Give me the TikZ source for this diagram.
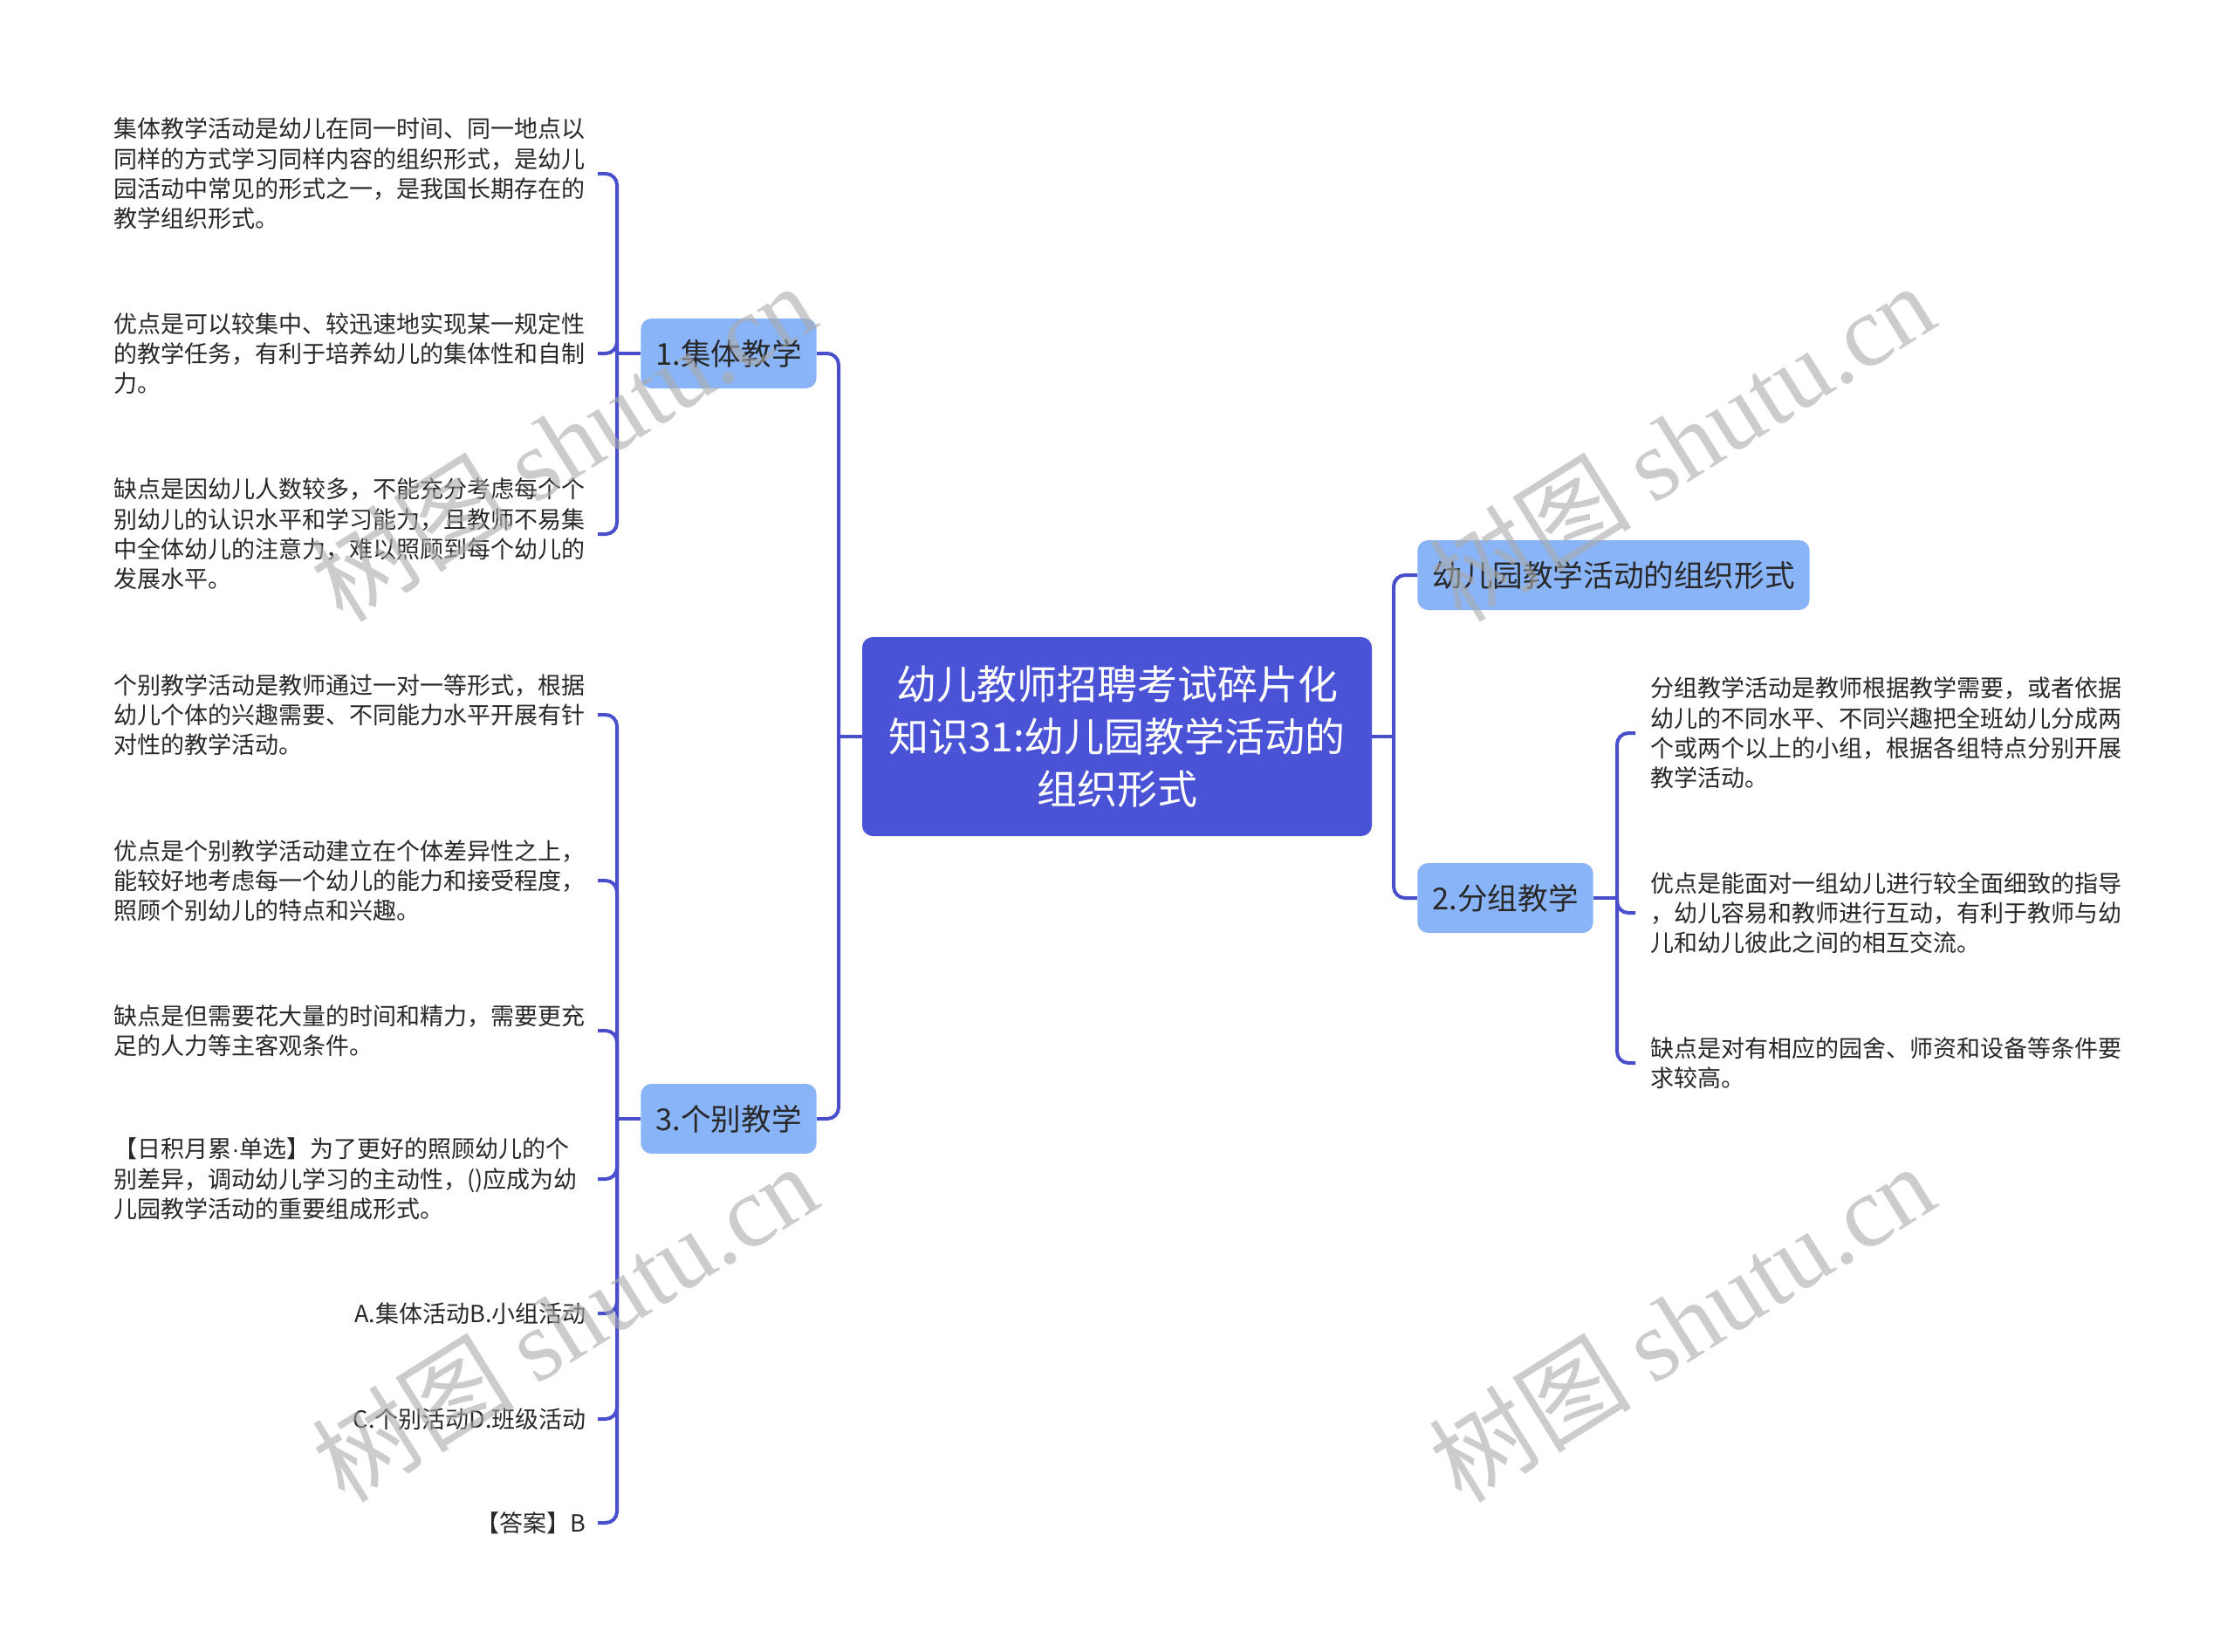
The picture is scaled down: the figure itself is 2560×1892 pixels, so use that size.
\documentclass[tikz,border=0pt]{standalone}
\usepackage{fontspec}
\setmainfont{Noto Sans CJK SC}
\newfontfamily\wmlatin{Liberation Serif}
\newfontfamily\latinsans{Liberation Sans}
\definecolor{mainc}{RGB}{74,82,214}
\definecolor{linec}{RGB}{72,78,204}
\definecolor{topicc}{RGB}{138,180,248}
\definecolor{txtc}{RGB}{40,40,40}
\definecolor{wmc}{RGB}{170,170,170}
\begin{document}
\begin{tikzpicture}[x=0.5pt,y=-0.5pt,
  conn/.style={draw=linec,line width=2pt,rounded corners=6.5pt},
  centerbox/.style={fill=mainc,rounded corners=6pt,text=white,font=\fontsize{23}{30}\selectfont,align=center,minimum width=292pt,minimum height=114pt,inner sep=0pt},
  topicbox/.style={fill=topicc,rounded corners=6pt,text=txtc,font=\fontsize{17.3}{20}\selectfont,inner xsep=8.5pt,inner ysep=0pt,minimum height=40pt},
  leafL/.style={anchor=east,text=txtc,font=\fontsize{13.5}{17.15}\selectfont,text width=270.5pt,align=left,inner xsep=6.5pt,inner ysep=0pt},
  leafLR/.style={leafL,align=right},
  leafR/.style={anchor=west,text=txtc,font=\fontsize{13.5}{17.15}\selectfont,text width=270.5pt,align=left,inner xsep=8.5pt,inner ysep=0pt},
  wm/.style={text=wmc,text opacity=0.6,rotate=32,font=\fontsize{58}{60}\selectfont,inner sep=0pt}
]
\useasboundingbox (0,0) rectangle (2560,1892);
\fill[white] (0,0) rectangle (2560,1892);

% central node
\node[centerbox] (C) at (1280,844) {幼儿教师招聘考试碎片化\\知识31:幼儿园教学活动的\\组织形式};

% topics
\node[topicbox] (T1) at (835,405) {1.集体教学};
\node[topicbox] (T3) at (835,1282) {3.个别教学};
\node[topicbox] (TR) at (1849,659) {幼儿园教学活动的组织形式};
\node[topicbox] (T2) at (1725,1029) {2.分组教学};

% left leaves of T1
\node[leafL] (L1a) at (685,199) {集体教学活动是幼儿在同一时间、同一地点以\\同样的方式学习同样内容的组织形式，是幼儿\\园活动中常见的形式之一，是我国长期存在的\\教学组织形式。};
\node[leafL] (L1b) at (685,405) {优点是可以较集中、较迅速地实现某一规定性\\的教学任务，有利于培养幼儿的集体性和自制\\力。};
\node[leafL] (L1c) at (685,612) {缺点是因幼儿人数较多，不能充分考虑每个个\\别幼儿的认识水平和学习能力，且教师不易集\\中全体幼儿的注意力，难以照顾到每个幼儿的\\发展水平。};

% left leaves of T3
\node[leafL] (L3a) at (685,819) {个别教学活动是教师通过一对一等形式，根据\\幼儿个体的兴趣需要、不同能力水平开展有针\\对性的教学活动。};
\node[leafL] (L3b) at (685,1009) {优点是个别教学活动建立在个体差异性之上，\\能较好地考虑每一个幼儿的能力和接受程度，\\照顾个别幼儿的特点和兴趣。};
\node[leafL] (L3c) at (685,1181) {缺点是但需要花大量的时间和精力，需要更充\\足的人力等主客观条件。};
\node[leafL] (L3d) at (685,1351) {【日积月累{\latinsans ·}单选】为了更好的照顾幼儿的个\\别差异，调动幼儿学习的主动性，()应成为幼\\儿园教学活动的重要组成形式。};
\node[leafLR] (L3e) at (685,1505) {A.集体活动B.小组活动};
\node[leafLR] (L3f) at (685,1626) {C.个别活动D.班级活动};
\node[leafLR] (L3g) at (685,1745) {【答案】B};

% right leaves of T2
\node[leafR] (R2a) at (1874,840) {分组教学活动是教师根据教学需要，或者依据\\幼儿的不同水平、不同兴趣把全班幼儿分成两\\个或两个以上的小组，根据各组特点分别开展\\教学活动。};
\node[leafR] (R2b) at (1874,1046) {优点是能面对一组幼儿进行较全面细致的指导\\，幼儿容易和教师进行互动，有利于教师与幼\\儿和幼儿彼此之间的相互交流。};
\node[leafR] (R2c) at (1874,1218) {缺点是对有相应的园舍、师资和设备等条件要\\求较高。};

% bus coordinates
\coordinate (LB) at (961,844);
\coordinate (RB) at (1597,844);
\coordinate (B1) at (707,405);
\coordinate (B3) at (707,1282);
\coordinate (B2) at (1853,1029);

% connectors
\draw[conn] (C.west) -- (LB);
\draw[conn] (LB) |- (T1.east);
\draw[conn] (LB) |- (T3.east);
\draw[conn] (C.east) -- (RB);
\draw[conn] (RB) |- (TR.west);
\draw[conn] (RB) |- (T2.west);

\draw[conn] (T1.west) -- (B1);
\foreach \n in {L1a,L1b,L1c} \draw[conn] (B1) |- (\n.east);
\draw[conn] (T3.west) -- (B3);
\foreach \n in {L3a,L3b,L3c,L3d,L3e,L3f,L3g} \draw[conn] (B3) |- (\n.east);
\draw[conn] (T2.east) -- (B2);
\foreach \n in {R2a,R2b,R2c} \draw[conn] (B2) |- (\n.west);

% watermarks
\node[wm] (W1) at (645,506) {树图 {\wmlatin shutu.cn}};
\node[wm] (W2) at (1927,506) {树图 {\wmlatin shutu.cn}};
\node[wm] (W3) at (647,1515) {树图 {\wmlatin shutu.cn}};
\node[wm] (W4) at (1927,1515) {树图 {\wmlatin shutu.cn}};
\end{tikzpicture}
\end{document}
